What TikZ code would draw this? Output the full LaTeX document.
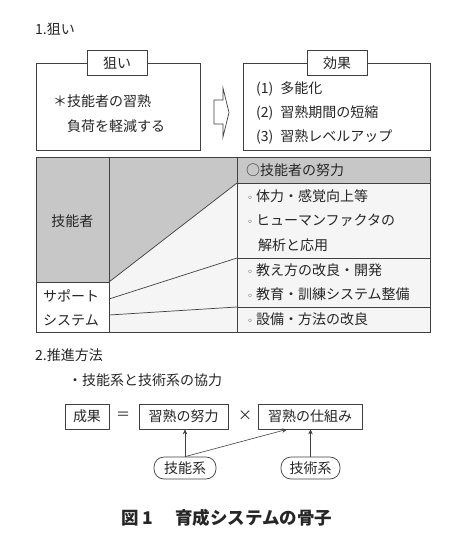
\documentclass[tikz,border=0pt]{standalone}
\usepackage{fontspec}
\setmainfont{Noto Sans CJK JP}
\newfontfamily\symfont{DejaVu Sans}
\usetikzlibrary{arrows.meta,calc}
\newcommand{\wb}{{\symfont\fontsize{10}{12}\selectfont ◦}\hspace{3pt}}
\begin{document}
\begin{tikzpicture}[x=1pt,y=-1pt,
  ln/.style={draw=black!75,line width=0.7pt},
  txt/.style={inner sep=0pt,anchor=west,text=black!85,font=\fontsize{14}{16}\selectfont},
  ctxt/.style={inner sep=0pt,text=black!85,font=\fontsize{14}{16}\selectfont},
  tab/.style={ln,fill=white,inner sep=0pt,text=black!85,font=\fontsize{14}{16}\selectfont,minimum height=25pt},
  ebox/.style={ln,inner sep=0pt,text=black!85,font=\fontsize{14}{16}\selectfont,minimum height=25pt},
  pill/.style={ln,rounded corners=10pt,inner sep=0pt,text=black!85,font=\fontsize{14}{16}\selectfont,minimum height=22pt},
  arr/.style={draw=black!75,line width=0.6pt,-{Stealth[length=5pt,width=4.5pt]}},
  gfill/.style={fill=black!22},
  lfill/.style={fill=black!4}
]
\useasboundingbox (0,0) rectangle (468,550);
\fill[white] (0,0) rectangle (468,550);

% section 1 heading
\node[txt] (h1) at (35,29) {1.狙い};

% left box
\draw[ln] (36,63) rectangle (200,150);
\node[tab,minimum width=60pt] (nerai) at (117,63) {狙い};
\node[txt] (n1) at (53,101) {＊技能者の習熟};
\node[txt] (n2) at (67,126) {負荷を軽減する};

% block arrow
\draw[ln,fill=white] (214,100) -- (223,100) -- (223,88) -- (229,112.5) -- (223,137) -- (223,124) -- (214,124) -- cycle;

% right box
\draw[ln] (243,63) rectangle (430,150);
\node[tab,minimum width=60pt] (kouka) at (337,63) {効果};
\node[txt] (k1) at (256,89) {(1)\hspace{7pt}多能化};
\node[txt] (k2) at (256,113) {(2)\hspace{7pt}習熟期間の短縮};
\node[txt] (k3) at (256,137) {(3)\hspace{7pt}習熟レベルアップ};

% table fills
\fill[lfill] (36,157) rectangle (430,332);
\fill[white] (36,282) rectangle (109,332);
\fill[gfill] (36,157) rectangle (109,282);
\fill[gfill] (109,157) -- (237,157) -- (237,183) -- (109,282) -- cycle;
\fill[gfill] (237,157) rectangle (430,183);
% table lines
\draw[ln] (36,157) rectangle (430,332);
\draw[ln] (109,157) -- (109,332);
\draw[ln] (237,157) -- (237,332);
\draw[ln] (36,282) -- (109,282);
\draw[ln] (237,183) -- (430,183);
\draw[ln] (237,258) -- (430,258);
\draw[ln] (237,307) -- (430,307);
\draw[ln] (109,282) -- (237,183);
\draw[ln] (109,299) -- (237,258);
\draw[ln] (109,315) -- (237,307);

% table texts
\node[ctxt] (ginousha) at (72.5,221) {技能者};
\node[txt] (s1) at (43,296) {サポート};
\node[txt] (s2) at (43,320) {システム};
\node[txt] (r1) at (246,170) {○技能者の努力};
\node[txt] (r2) at (247,196) {\wb 体力・感覚向上等};
\node[txt] (r3) at (247,220) {\wb ヒューマンファクタの};
\node[txt] (r4) at (258,245) {解析と応用};
\node[txt] (r5) at (247,270) {\wb 教え方の改良・開発};
\node[txt] (r6) at (247,294) {\wb 教育・訓練システム整備};
\node[txt] (r7) at (247,319) {\wb 設備・方法の改良};

% section 2
\node[txt] (h2) at (35,355) {2.推進方法};
\node[txt] (b1) at (68,380) {・技能系と技術系の協力};

\node[ebox,minimum width=44pt] (seika) at (87,416.5) {成果};
\node[ctxt] (eq) at (123,416) {＝};
\node[ebox,minimum width=89pt] (doryoku) at (183.5,416.5) {習熟の努力};
\node[ctxt] (times) at (245,416) {×};
\node[ebox,minimum width=104pt] (shikumi) at (310,416.5) {習熟の仕組み};

\node[pill,minimum width=62pt] (ginou) at (185,468) {技能系};
\node[pill,minimum width=59pt] (gijutsu) at (310.5,468) {技術系};

\draw[arr] (ginou.north) -- (ginou.north |- doryoku.south);
\draw[arr] (ginou.north) -- ([xshift=-23pt]shikumi.south);
\draw[arr] (gijutsu.north) -- (gijutsu.north |- shikumi.south);

% caption
\node[txt,font=\fontsize{17.5}{20}\selectfont\bfseries] (cap) at (121,518) {図\hspace{4pt}1\hspace{22pt}育成システムの骨子};
\end{tikzpicture}
\end{document}
